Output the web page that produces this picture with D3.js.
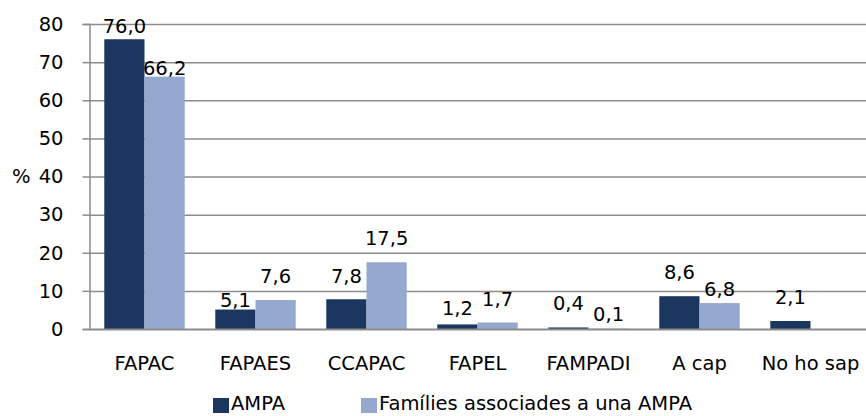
<!DOCTYPE html>
<html><head><meta charset="utf-8">
<script src="https://cdn.jsdelivr.net/npm/d3@7"></script>
<style>body{margin:0;background:#fff}svg{display:block}</style>
</head><body>
<svg id="c" width="866" height="416"></svg>
<script>
const categories = ["FAPAC","FAPAES","CCAPAC","FAPEL","FAMPADI","A cap","No ho sap"];
const seriesNames = ["AMPA","Famílies associades a una AMPA"];
const ampa = [76.0, 5.1, 7.8, 1.2, 0.4, 8.6, 2.1];
const families = [66.2, 7.6, 17.5, 1.7, 0.1, 6.8, null];
const yTicks = [0,10,20,30,40,50,60,70,80];

const colors = ["#1B365F", "#95A8D0"];
const font = "'DejaVu Sans', sans-serif";
const fs = 19.5;
// label lift above bar top (px), per series / category, to mimic original placement
const labelLift = [[13,9,23,16,24,24,24],[8,24,24,23,14,14,24]];

const svg = d3.select("#c");
const x = d3.scaleBand().domain(categories).range([89, 866]).paddingInner(0).paddingOuter(0);
const y = d3.scaleLinear().domain([0, 80]).range([329, 24]);
const xs = d3.scaleBand().domain([0,1]).range([0, x.bandwidth()]).paddingInner(0).paddingOuter(0.38);

// gridlines
svg.append("g").selectAll("line").data(yTicks.filter(d=>d>0)).join("line")
  .attr("x1", 89).attr("x2", 866).attr("y1", d=>y(d)+0.5).attr("y2", d=>y(d)+0.5)
  .attr("stroke", "#8c8c8c").attr("stroke-width", 1.5);

// y axis
const yAxis = d3.axisLeft(y).tickValues(yTicks).tickSize(7).tickPadding(19).tickFormat(d3.format("d"));
const gy = svg.append("g").attr("transform", "translate(89.5,0)").call(yAxis);
gy.select(".domain").attr("stroke", "#8c8c8c").attr("stroke-width", 1.5);
gy.selectAll(".tick line").attr("stroke", "#8c8c8c").attr("stroke-width", 1.5);
gy.selectAll(".tick text").attr("font-family", font).attr("font-size", fs).attr("fill", "#000");

svg.append("text").attr("x", 12).attr("y", y(40)).attr("dy", "0.35em")
  .attr("font-family", font).attr("font-size", fs).text("%");

const series = [ampa, families];
series.forEach((vals, si) => {
  const g = svg.append("g");
  const data = categories.map((c,i)=>({c, v: vals[i], i})).filter(d=>d.v!=null);
  g.selectAll("rect").data(data).join("rect")
    .attr("x", d => x(d.c) + xs(si)).attr("width", xs.bandwidth())
    .attr("y", d => y(d.v)).attr("height", d => y(0) - y(d.v))
    .attr("fill", colors[si]);
  g.selectAll("text").data(data).join("text")
    .attr("x", d => x(d.c) + xs(si) + xs.bandwidth()/2)
    .attr("y", d => y(d.v) - labelLift[si][d.i]).attr("dy", "0.35em")
    .attr("text-anchor", "middle").attr("font-family", font).attr("font-size", fs)
    .text(d => d3.format(".1f")(d.v).replace(".", ","));
});

// x axis baseline
const xAxis = d3.axisBottom(x).tickSize(0).tickPadding(27);
const gx = svg.append("g").attr("transform", `translate(0,${y(0)})`).call(xAxis);
gx.select(".domain").attr("stroke", "#8c8c8c").attr("stroke-width", 2);
gx.selectAll(".tick text").attr("font-family", font).attr("font-size", fs).attr("fill", "#000");

// legend
const leg = svg.append("g");
const legX = [213, 361];
seriesNames.forEach((n, i) => {
  leg.append("rect").attr("x", legX[i]).attr("y", 398).attr("width", 16).attr("height", 15).attr("fill", colors[i]);
  leg.append("text").attr("x", legX[i] + 18).attr("y", 410)
    .attr("font-family", font).attr("font-size", fs).text(n);
});
</script>
</body></html>
